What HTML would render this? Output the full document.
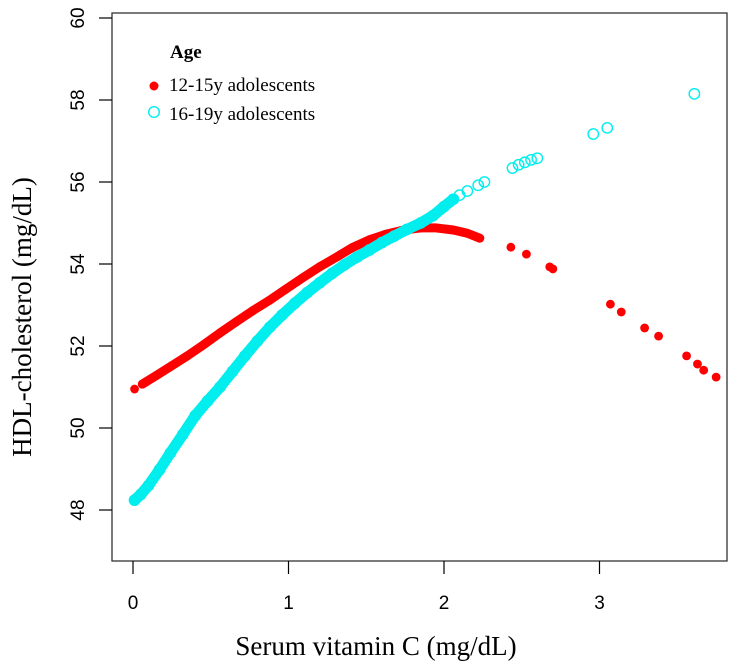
<!DOCTYPE html>
<html><head><meta charset="utf-8"><style>
body{margin:0;background:#fff;}
svg{display:block;}
</style></head><body>
<svg id="chart" width="744" height="669" viewBox="0 0 744 669" xmlns="http://www.w3.org/2000/svg">
<rect width="744" height="669" fill="#fff"/>
<g id="marks"></g>
<rect x="112" y="13" width="615" height="548" fill="none" stroke="#333" stroke-width="1.3"/>
<g id="axes" font-family="Liberation Sans, sans-serif" font-size="19" fill="#000"></g>
<text x="376" y="655" text-anchor="middle" font-family="Liberation Serif, serif" font-size="27">Serum vitamin C (mg/dL)</text>
<text transform="translate(31,317) rotate(-90)" text-anchor="middle" font-family="Liberation Serif, serif" font-size="27">HDL-cholesterol (mg/dL)</text>
<g font-family="Liberation Serif, serif" font-size="19">
<text x="170" y="58" font-weight="bold">Age</text>
<circle cx="154" cy="86" r="4.5" fill="#ff0000"/>
<text x="169" y="91">12-15y adolescents</text>
<circle cx="154" cy="112" r="5.3" fill="none" stroke="#00eeee" stroke-width="1.4"/>
<text x="169" y="120">16-19y adolescents</text>
</g>
</svg>
<script>
const xTicks=[0,1,2,3];
const yTicks=[48,50,52,54,56,58,60];
const redX=[0.01,0.06,0.15,0.25,0.35,0.45,0.56,0.66,0.77,0.88,0.98,1.09,1.20,1.31,1.41,1.52,1.63,1.74,1.85,1.95,2.06,2.15,2.23];
const redY=[50.95,51.07,51.28,51.52,51.76,52.02,52.32,52.58,52.86,53.12,53.38,53.66,53.93,54.17,54.40,54.59,54.73,54.83,54.88,54.88,54.83,54.75,54.63];
const redSX=[2.43,2.53,2.68,2.70,3.07,3.14,3.29,3.38,3.56,3.63,3.67,3.75];
const redSY=[54.41,54.24,53.93,53.88,53.02,52.83,52.44,52.24,51.76,51.56,51.41,51.24];
const cyanX=[0.01,0.05,0.10,0.17,0.24,0.32,0.40,0.48,0.56,0.64,0.72,0.80,0.88,0.96,1.04,1.12,1.20,1.28,1.36,1.44,1.52,1.60,1.68,1.76,1.85,1.93,2.00,2.06];
const cyanY=[48.24,48.38,48.60,48.98,49.39,49.84,50.30,50.66,51.00,51.38,51.76,52.12,52.46,52.76,53.04,53.30,53.54,53.77,53.98,54.17,54.34,54.52,54.68,54.84,55.00,55.18,55.40,55.58];
const cyanSX=[2.10,2.15,2.22,2.26,2.44,2.48,2.52,2.56,2.60,2.96,3.05,3.61];
const cyanSY=[55.68,55.78,55.92,56.00,56.34,56.42,56.48,56.54,56.58,57.17,57.32,58.15];

const X0=133,XS=155.5,Y48=510,YS=41;
const sx=v=>X0+v*XS;
const sy=v=>Y48-(v-48)*YS;
const NS='http://www.w3.org/2000/svg';
const marks=document.getElementById('marks');
const axes=document.getElementById('axes');
function mk(tag,parent){const e=document.createElementNS(NS,tag);parent.appendChild(e);return e;}

xTicks.forEach(t=>{
  const l=mk('line',axes);
  
  
  l.setAttribute('x1',sx(t));l.setAttribute('x2',sx(t));l.setAttribute('y1',561);l.setAttribute('y2',574);l.setAttribute('stroke','#000');l.setAttribute('stroke-width','1.2');
  const tx=mk('text',axes);
  
  
  tx.setAttribute('x',sx(t));tx.setAttribute('y',609);tx.setAttribute('text-anchor','middle');tx.textContent=t;
});
yTicks.forEach(t=>{
  const l=mk('line',axes);
  
  
  l.setAttribute('x1',99);l.setAttribute('x2',112);l.setAttribute('y1',sy(t));l.setAttribute('y2',sy(t));l.setAttribute('stroke','#000');l.setAttribute('stroke-width','1.2');
  const tx=mk('text',axes);
  
  
  tx.setAttribute('transform','translate(84,'+sy(t)+') rotate(-90)');tx.setAttribute('text-anchor','middle');tx.textContent=t;
});

function band(xs,ys,color,width,name){
  const p=mk('polyline',marks);
  
  
  p.setAttribute('points',xs.map((x,i)=>sx(x)+','+sy(ys[i])).join(' '));
  p.setAttribute('fill','none');p.setAttribute('stroke',color);p.setAttribute('stroke-width',width);p.setAttribute('stroke-linecap','round');p.setAttribute('stroke-linejoin','round');
}
function dots(xs,ys,filled,color,name){
  xs.forEach((x,i)=>{
    const c=mk('circle',marks);
    
    
    c.setAttribute('cx',sx(x));c.setAttribute('cy',sy(ys[i]));
    if(filled){c.setAttribute('r',4.4);c.setAttribute('fill',color);}
    else{c.setAttribute('r',5.2);c.setAttribute('fill','none');c.setAttribute('stroke',color);c.setAttribute('stroke-width','1.4');}
  });
}
band(redX.slice(1),redY.slice(1),'#ff0000',9,'red-dense-band');
dots(redX,redY,true,'#ff0000','point-12-15');
dots(redSX,redSY,true,'#ff0000','point-12-15');
band(cyanX,cyanY,'#00eeee',11,'cyan-dense-band');
dots(cyanX,cyanY,false,'#00eeee','point-16-19');
dots(cyanSX,cyanSY,false,'#00eeee','point-16-19');
</script>
</body></html>
